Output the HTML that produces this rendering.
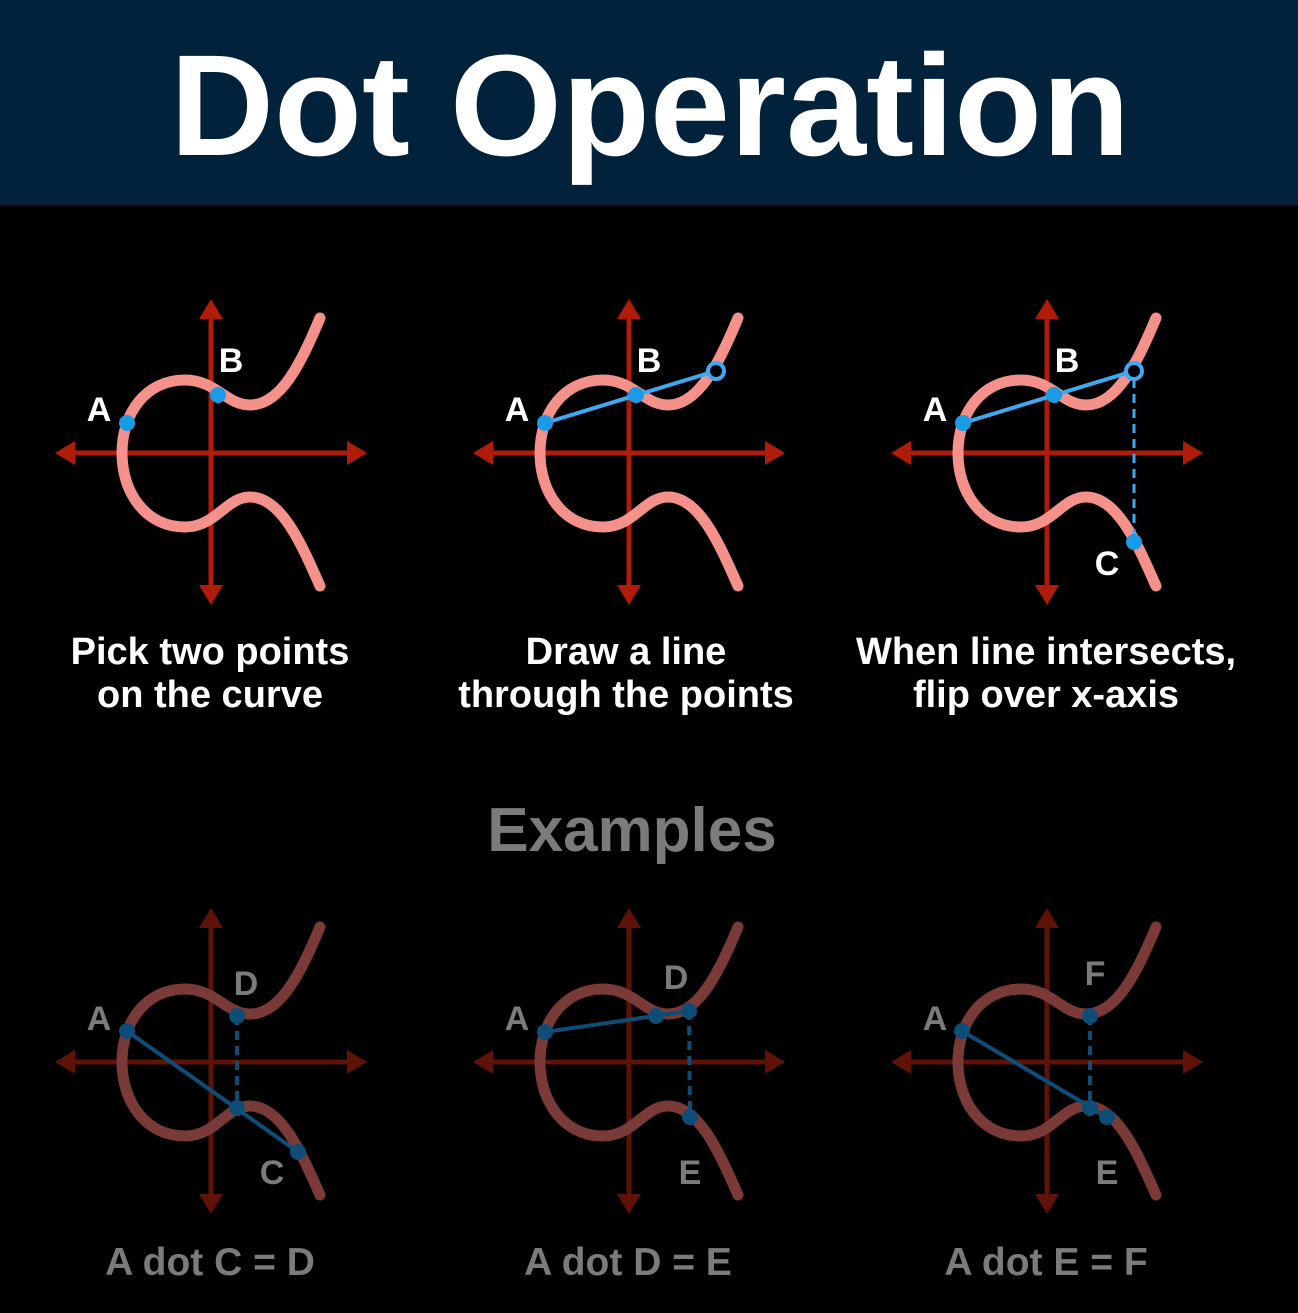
<!DOCTYPE html>
<html><head><meta charset="utf-8"><style>
html,body{margin:0;padding:0;background:#000;}
svg{display:block}
text{font-family:"Liberation Sans",Arial,sans-serif;font-weight:bold;}
</style></head><body>
<svg width="1298" height="1313" viewBox="0 0 1298 1313" xmlns="http://www.w3.org/2000/svg">
<defs>
<g id="axB">
<line x1="-140" y1="0" x2="140" y2="0" stroke="#b01c0a" stroke-width="5"/>
<line x1="0" y1="-138" x2="0" y2="138" stroke="#b01c0a" stroke-width="5"/>
<polygon points="-156,0 -136,-12 -136,12" fill="#b01c0a"/>
<polygon points="156,0 136,-12 136,12" fill="#b01c0a"/>
<polygon points="0,-154 -12,-134 12,-134" fill="#b01c0a"/>
<polygon points="0,152 -12,132 12,132" fill="#b01c0a"/>
</g>
<g id="axD">
<line x1="-140" y1="0" x2="140" y2="0" stroke="#5e1208" stroke-width="5"/>
<line x1="0" y1="-138" x2="0" y2="138" stroke="#5e1208" stroke-width="5"/>
<polygon points="-156,0 -136,-12 -136,12" fill="#5e1208"/>
<polygon points="156,0 136,-12 136,12" fill="#5e1208"/>
<polygon points="0,-154 -12,-134 12,-134" fill="#5e1208"/>
<polygon points="0,152 -12,132 12,132" fill="#5e1208"/>
</g>
<path id="cv" d="M109,-135 C90,-90 70,-48 39,-48 C15,-48 5,-73 -26,-73 C-65,-73 -89,-40 -89,0 C-89,40 -65,74 -26,74 C5,74 15,44 39,44 C70,44 90,90 109,133" fill="none" stroke-width="11" stroke-linecap="round"/>
</defs>
<rect x="0" y="0" width="1298" height="205" fill="#02213b"/>
<text x="650" y="155" font-size="144" fill="#fff" text-anchor="middle">Dot Operation</text>

<g transform="translate(211,453)">
<use href="#axB"/><use href="#cv" stroke="#f4918a"/>
<circle cx="-84" cy="-30" r="8" fill="#1a9be8"/><circle cx="7" cy="-58" r="8" fill="#1a9be8"/>
<text x="-112" y="-32" font-size="34" fill="#fff" text-anchor="middle">A</text>
<text x="20" y="-81" font-size="34" fill="#fff" text-anchor="middle">B</text>
</g>
<g transform="translate(629,453)">
<use href="#axB"/><use href="#cv" stroke="#f4918a"/>
<line x1="-84" y1="-30" x2="80" y2="-80" stroke="#3da9f0" stroke-width="4"/>
<circle cx="-84" cy="-30" r="8" fill="#1a9be8"/><circle cx="7" cy="-58" r="8" fill="#1a9be8"/>
<circle cx="87" cy="-82" r="8" fill="#000" stroke="#3da9f0" stroke-width="4"/>
<text x="-112" y="-32" font-size="34" fill="#fff" text-anchor="middle">A</text>
<text x="20" y="-81" font-size="34" fill="#fff" text-anchor="middle">B</text>
</g>
<g transform="translate(1047,453)">
<use href="#axB"/><use href="#cv" stroke="#f4918a"/>
<line x1="-84" y1="-30" x2="80" y2="-80" stroke="#3da9f0" stroke-width="4"/>
<line x1="87" y1="-74" x2="87" y2="89" stroke="#3da9f0" stroke-width="3" stroke-dasharray="9,6"/>
<circle cx="-84" cy="-30" r="8" fill="#1a9be8"/><circle cx="7" cy="-58" r="8" fill="#1a9be8"/>
<circle cx="87" cy="-82" r="8" fill="#000" stroke="#3da9f0" stroke-width="4"/>
<circle cx="87" cy="89" r="8" fill="#1a9be8"/>
<text x="-112" y="-32" font-size="34" fill="#fff" text-anchor="middle">A</text>
<text x="20" y="-81" font-size="34" fill="#fff" text-anchor="middle">B</text>
<text x="60" y="122" font-size="34" fill="#fff" text-anchor="middle">C</text>
</g>

<g font-size="38" fill="#fff" text-anchor="middle">
<text x="210" y="664">Pick two points</text><text x="210" y="707">on the curve</text>
<text x="626" y="664">Draw a line</text><text x="626" y="707">through the points</text>
<text x="1046" y="664">When line intersects,</text><text x="1046" y="707">flip over x-axis</text>
</g>
<text x="632" y="851" font-size="62" fill="#7b7b7b" text-anchor="middle">Examples</text>

<g transform="translate(211,1062)">
<use href="#axD"/><use href="#cv" stroke="#7a3a37"/>
<line x1="-84" y1="-31" x2="87" y2="90" stroke="#0e4d78" stroke-width="4"/>
<line x1="26" y1="-46" x2="26" y2="46" stroke="#0e4d78" stroke-width="4" stroke-dasharray="9,6"/>
<g fill="#0e4d78"><circle cx="-84" cy="-31" r="8"/><circle cx="87" cy="90" r="8"/><circle cx="26" cy="46" r="8"/><circle cx="26" cy="-46" r="8"/></g>
<g font-size="34" fill="#7b7b7b" text-anchor="middle">
<text x="-112" y="-32">A</text><text x="35" y="-67">D</text><text x="61" y="122">C</text></g>
</g>
<g transform="translate(629,1062)">
<use href="#axD"/><use href="#cv" stroke="#7a3a37"/>
<line x1="-84" y1="-30" x2="60" y2="-51" stroke="#0e4d78" stroke-width="4"/>
<line x1="60" y1="-51" x2="61" y2="55" stroke="#0e4d78" stroke-width="4" stroke-dasharray="9,6"/>
<g fill="#0e4d78"><circle cx="-84" cy="-30" r="8"/><circle cx="27" cy="-46" r="8"/><circle cx="60" cy="-51" r="8"/><circle cx="61" cy="55" r="8"/></g>
<g font-size="34" fill="#7b7b7b" text-anchor="middle">
<text x="-112" y="-32">A</text><text x="47" y="-73">D</text><text x="61" y="122">E</text></g>
</g>
<g transform="translate(1047,1062)">
<use href="#axD"/><use href="#cv" stroke="#7a3a37"/>
<line x1="-85" y1="-31" x2="60" y2="55" stroke="#0e4d78" stroke-width="4"/>
<line x1="43" y1="-46" x2="43" y2="46" stroke="#0e4d78" stroke-width="4" stroke-dasharray="9,6"/>
<g fill="#0e4d78"><circle cx="-85" cy="-31" r="8"/><circle cx="43" cy="46" r="8"/><circle cx="60" cy="55" r="8"/><circle cx="43" cy="-46" r="8"/></g>
<g font-size="34" fill="#7b7b7b" text-anchor="middle">
<text x="-112" y="-32">A</text><text x="48" y="-77">F</text><text x="60" y="122">E</text></g>
</g>

<g font-size="39" fill="#7b7b7b" text-anchor="middle">
<text x="210" y="1275">A dot C = D</text>
<text x="628" y="1275">A dot D = E</text>
<text x="1046" y="1275">A dot E = F</text>
</g>
</svg>
</body></html>
